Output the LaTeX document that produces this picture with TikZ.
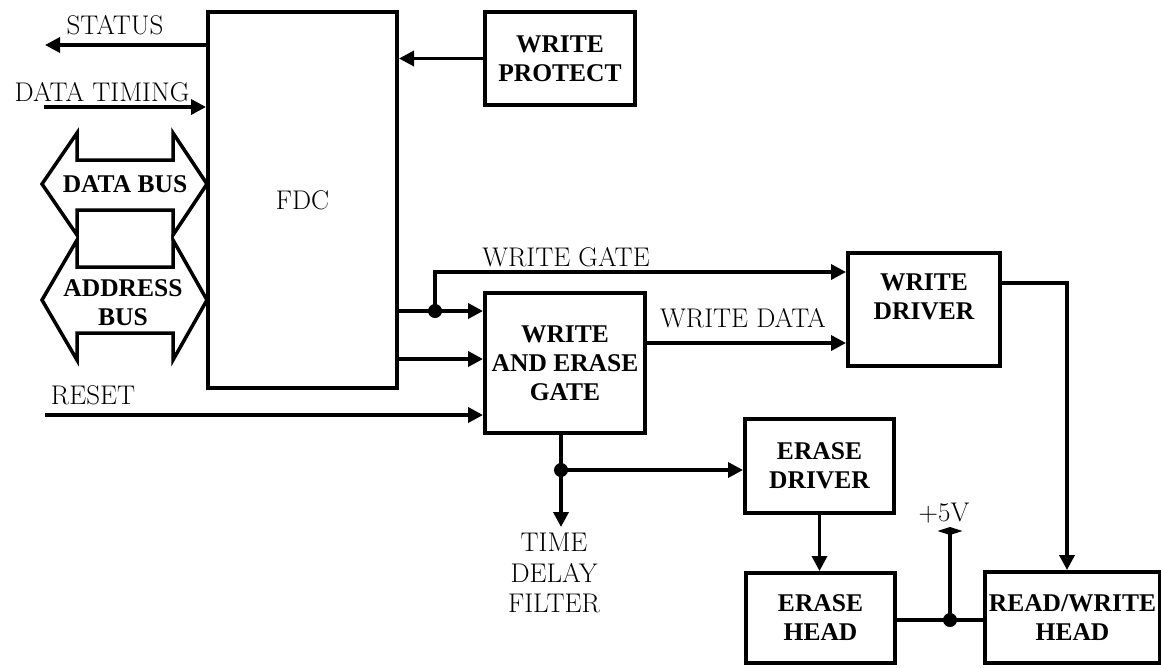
\documentclass[tikz,border=0pt]{standalone}
\usepackage{fontspec}
\newfontfamily\boxfont{Liberation Serif}
\usetikzlibrary{arrows.meta}
\begin{document}
\begin{tikzpicture}[x=1pt,y=-1pt,
  box/.style={draw, line width=4pt, inner sep=0pt, align=center, font=\boxfont\bfseries\fontsize{25.5}{29}\selectfont},
  btext/.style={inner sep=0pt, align=center, font=\boxfont\bfseries\fontsize{25.5}{29}\selectfont},
  lbl/.style={inner sep=0pt, align=center, font=\fontsize{27}{30.5}\selectfont},
  wire/.style={line width=3.5pt},
  arr/.style={line width=3.5pt, -{Triangle[length=15pt,width=15pt]}},
  kitetip/.style={line width=3.5pt, -{Kite[length=8pt,width=25pt,inset=4pt]}},
  jdot/.style={circle, fill, inner sep=0pt, minimum size=14pt},
  bus/.style={line width=3.5pt, line join=miter}
]
\useasboundingbox (0,0) rectangle (1161,667);

% boxes
\node[box, font=\fontsize{27}{30}\selectfont, minimum width=189pt, minimum height=376pt] (fdc) at (302.5,200) {FDC};
\node[box, minimum width=150pt, minimum height=93pt] (wp) at (560,58.5) {WRITE\\PROTECT};
\node[box, minimum width=160pt, minimum height=140pt] (weg) at (565,363) {WRITE\\AND ERASE\\GATE};
\node[box, minimum width=152pt, minimum height=113pt] (wd) at (924,309.5) {};
\node[btext] (wdt) at (924,297) {WRITE\\DRIVER};
\node[box, minimum width=149pt, minimum height=94pt] (ed) at (819.5,466) {ERASE\\DRIVER};
\node[box, minimum width=149pt, minimum height=90pt] (eh) at (820.5,618) {ERASE\\HEAD};
\node[box, minimum width=175pt, minimum height=91pt] (rw) at (1072.5,617.5) {READ/WRITE\\HEAD};

% buses
\draw[bus] (77,160) -- (77,133) -- (42,184) -- (77,235) -- (77,210) -- (173,210) -- (173,235) -- (207,184) -- (173,133) -- (173,160) -- cycle;
\draw[bus] (77,267) -- (77,240) -- (42,300) -- (77,360) -- (77,333) -- (173,333) -- (173,360) -- (207,300) -- (173,240) -- (173,267) -- cycle;
\node[btext] (db) at (125,184) {DATA BUS};
\node[btext] (ab) at (123,302.5) {ADDRESS\\BUS};

% left side signals
\coordinate (st) at (45,45);
\coordinate (dt) at (44,107);
\coordinate (rs) at (45,415);
\draw[arr] (st -| fdc.west) -- (st);
\node[lbl] (stl) at (115,25) {STATUS};
\draw[arr] (dt) -- (dt -| fdc.west);
\node[lbl] (dtl) at (102,92) {DATA TIMING};
\draw[arr] (rs) -- (rs -| weg.west);
\node[lbl] (rsl) at (93,395) {RESET};

% write protect
\draw[arr] (wp.west) -- (wp.west -| fdc.east);

% FDC to gate
\node[jdot] (j1) at (435,311) {};
\coordinate (o2) at (435,359);
\coordinate (wgc) at (848,272);
\draw[arr] (fdc.east |- j1) -- (j1 -| weg.west);
\draw[arr] (fdc.east |- o2) -- (o2 -| weg.west);
\draw[arr] (j1.center) |- (wgc -| wd.west);
\node[lbl] (wgl) at (566,257) {WRITE GATE};

% write data
\coordinate (wdc) at (700,343);
\draw[arr] (weg.east |- wdc) -- (wdc -| wd.west);
\node[lbl] (wdl) at (743,318) {WRITE DATA};

% write driver to read/write head
\draw[arr] (wd.east |- 0,283) -| ([xshift=-5.5pt]rw.north);

% gate bottom
\node[jdot] (j2) at (561,470) {};
\coordinate (td) at (561,527);
\draw[wire] (weg.south -| j2) -- (j2.center);
\draw[arr] (j2.center) -- (td);
\draw[arr] (j2.center) -- (j2 -| ed.west);
\node[lbl] (tdf) at (554,573) {TIME\\DELAY\\FILTER};

% erase driver to head
\draw[arr] (ed.south) -- (ed.south |- eh.north);

% heads and +5V
\node[jdot] (j3) at (950,620) {};
\coordinate (v5) at (950,527);
\draw[wire] (eh.east |- j3) -- (j3 -| rw.west);
\draw[kitetip] (j3.center) -- (v5);
\node[lbl] (v5l) at (944,513) {+5V};
\end{tikzpicture}
\end{document}
